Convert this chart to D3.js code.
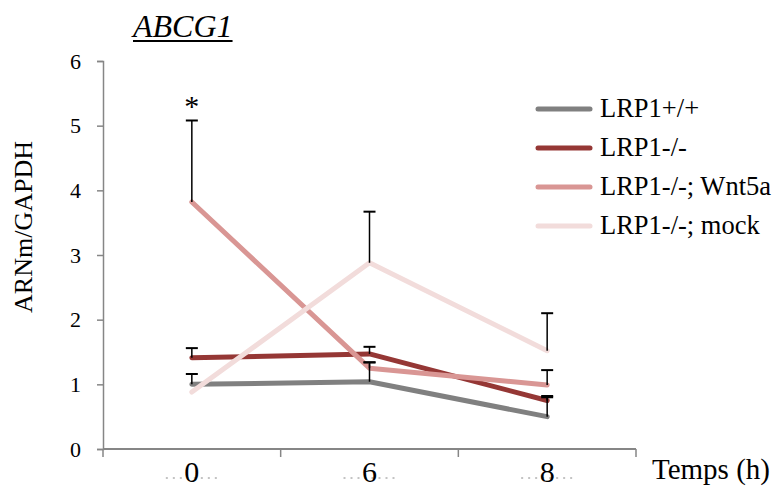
<!DOCTYPE html>
<html>
<head>
<meta charset="utf-8">
<script src="https://cdn.jsdelivr.net/npm/d3@7/dist/d3.min.js"></script>
<style>
  body { margin: 0; background: #fff; }
  svg { display: block; }
</style>
</head>
<body>
<svg id="chart" width="775" height="488"></svg>
<script>
const categories = ["0", "6", "8"];
const seriesNames = ["LRP1+/+", "LRP1-/-", "LRP1-/-; Wnt5a", "LRP1-/-; mock"];
const valuesWT = [1.00, 1.04, 0.50];
const errorsWT = [0.16, 0.30, 0.30];
const valuesKO = [1.41, 1.47, 0.75];
const errorsKO = [0.15, 0.11, 0.07];
const valuesWnt5a = [3.82, 1.25, 0.99];
const errorsWnt5a = [1.26, 0.09, 0.23];
const valuesMock = [0.88, 2.88, 1.52];
const errorsMock = [0.00, 0.79, 0.58];
const yTicks = [0, 1, 2, 3, 4, 5, 6];
const colors = ["#808080", "#953735", "#D99694", "#F2DCDB"];

const series = [
  { name: seriesNames[0], values: valuesWT, errors: errorsWT, color: colors[0] },
  { name: seriesNames[1], values: valuesKO, errors: errorsKO, color: colors[1] },
  { name: seriesNames[2], values: valuesWnt5a, errors: errorsWnt5a, color: colors[2] },
  { name: seriesNames[3], values: valuesMock, errors: errorsMock, color: colors[3] }
];

const FONT = '"Liberation Serif"';
const svg = d3.select("#chart");
const pLeft = 103, pRight = 636, pTop = 61, pBottom = 449;

const x = d3.scaleBand().domain(categories).range([pLeft, pRight]).padding(0);
const y = d3.scaleLinear().domain([0, 6]).range([pBottom, pTop]);
const cx = c => x(c) + x.bandwidth() / 2;

// Y axis
const yAxis = svg.append("g").attr("transform", `translate(${pLeft},0)`)
  .call(d3.axisLeft(y).tickValues(yTicks).tickSize(6).tickPadding(16).tickFormat(d3.format("d")));
yAxis.attr("font-family", null).attr("font-size", null);
yAxis.select(".domain").attr("stroke", "#868686").attr("stroke-width", 1.5);
yAxis.selectAll(".tick line").attr("stroke", "#868686").attr("stroke-width", 1.5);
yAxis.selectAll(".tick text").style("font-size", "22px").attr("fill", "#000");

// X axis
const xAxisG = svg.append("g");
xAxisG.append("line").attr("x1", pLeft).attr("x2", pRight).attr("y1", pBottom).attr("y2", pBottom)
  .attr("stroke", "#868686").attr("stroke-width", 2);
const boundaries = [pLeft].concat(categories.map(c => x(c) + x.bandwidth()));
xAxisG.selectAll("line.xt").data(boundaries).enter().append("line").attr("class", "xt")
  .attr("x1", d => d).attr("x2", d => d).attr("y1", pBottom).attr("y2", pBottom + 8)
  .attr("stroke", "#868686").attr("stroke-width", 1.5);
// faint dotted artifacts beside labels
xAxisG.selectAll("line.dots").data(categories).enter().append("line").attr("class", "dots")
  .attr("x1", d => cx(d) - 26).attr("x2", d => cx(d) + 28).attr("y1", 478).attr("y2", 478)
  .attr("stroke", "#888").attr("stroke-width", 1).attr("stroke-dasharray", "2,5");
xAxisG.selectAll("text.xl").data(categories).enter().append("text").attr("class", "xl")
  .attr("x", d => cx(d)).attr("y", 482).attr("text-anchor", "middle")
  .style("font-size", "30px").text(d => d);

svg.append("text").attr("x", 652).attr("y", 479).style("font-size", "29px").text("Temps (h)");

// Y label
svg.append("text").attr("transform", "translate(32,227) rotate(-90)").attr("text-anchor", "middle")
  .style("font-size", "26px").text("ARNm/GAPDH");

// Title
const title = svg.append("text").attr("x", 133).attr("y", 37).style("font-size", "32px")
  .style("font-style", "italic").style("font-family", FONT).text("ABCG1");
const tw = title.node().getComputedTextLength();
svg.append("line").attr("x1", 133).attr("x2", 133 + tw).attr("y1", 41).attr("y2", 41)
  .attr("stroke", "#000").attr("stroke-width", 2);

// Lines
const line = d3.line().x((d, i) => cx(categories[i])).y(d => y(d));
svg.selectAll("path.series").data(series).enter().append("path").attr("class", "series")
  .attr("d", d => line(d.values)).attr("fill", "none").attr("stroke", d => d.color)
  .attr("stroke-width", 5).attr("stroke-linecap", "round").attr("stroke-linejoin", "round");

// Error bars (plus only)
series.forEach(s => {
  s.values.forEach((v, i) => {
    if (!s.errors[i]) return;
    const px = cx(categories[i]);
    svg.append("line").attr("x1", px).attr("x2", px).attr("y1", y(v)).attr("y2", y(v + s.errors[i]))
      .attr("stroke", "#000").attr("stroke-width", 1.5);
    svg.append("line").attr("x1", px - 6).attr("x2", px + 6).attr("y1", y(v + s.errors[i])).attr("y2", y(v + s.errors[i]))
      .attr("stroke", "#000").attr("stroke-width", 2);
  });
});

// Asterisk
svg.append("text").attr("x", cx("0")).attr("y", 116).attr("text-anchor", "middle")
  .style("font-size", "30px").text("*");

// Legend
const legendY = [109, 148, 187, 226];
const lg = svg.selectAll("g.leg").data(series).enter().append("g").attr("class", "leg")
  .attr("transform", (d, i) => `translate(0,${legendY[i]})`);
lg.append("line").attr("x1", 538).attr("x2", 590).attr("y1", 0).attr("y2", 0)
  .attr("stroke", d => d.color).attr("stroke-width", 5).attr("stroke-linecap", "round");
lg.append("text").attr("x", 600).attr("y", 8).style("font-size", "26.5px").text(d => d.name);

svg.selectAll("text").style("font-family", FONT).attr("fill", "#000");
</script>
</body>
</html>
